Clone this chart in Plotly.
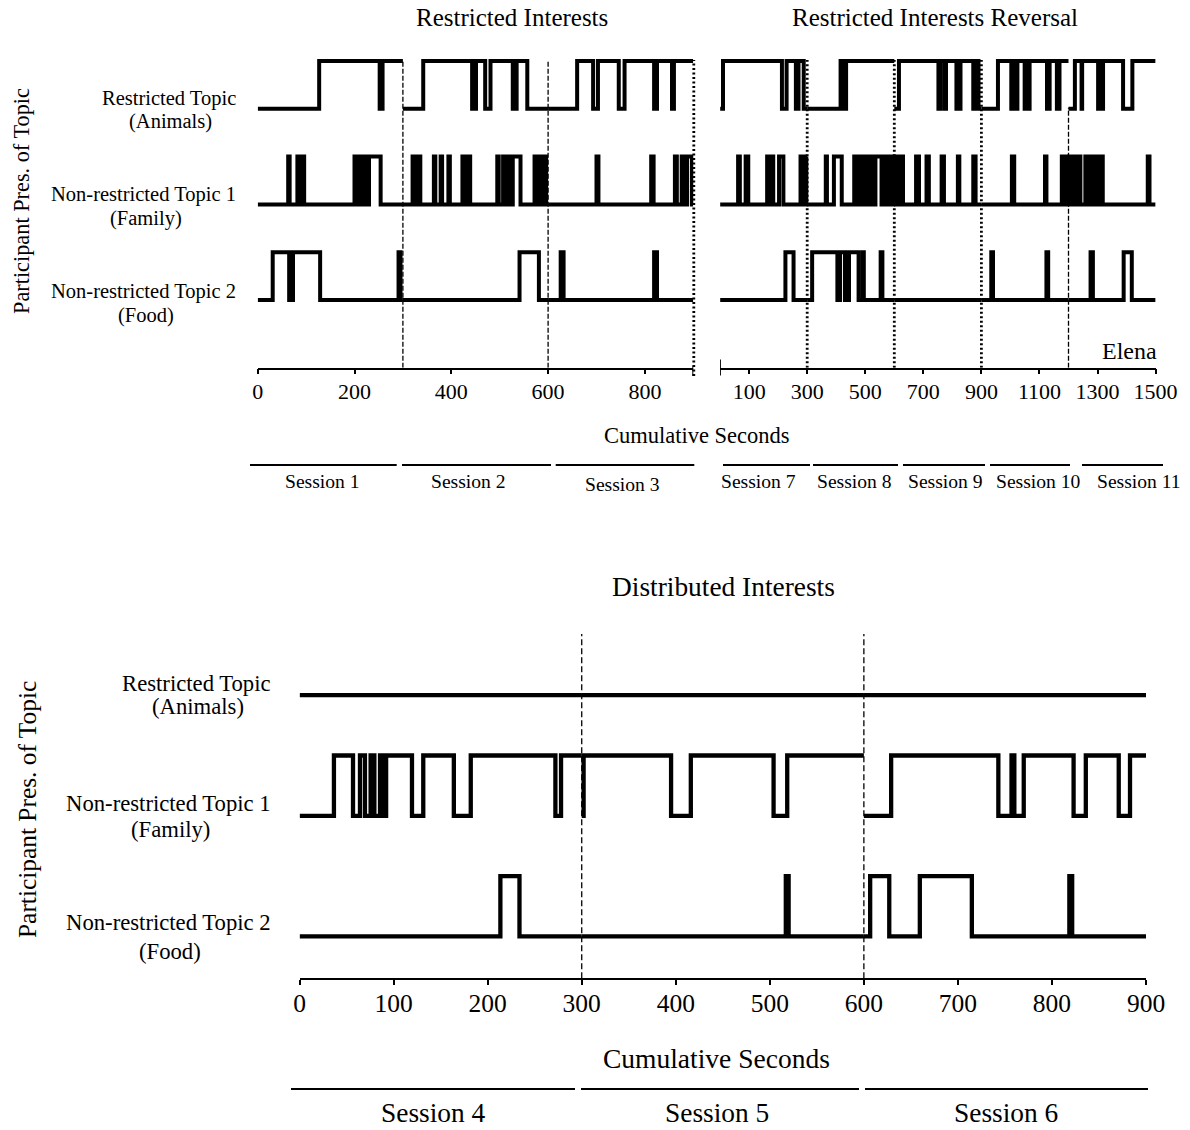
import plotly.graph_objects as go

W, H = 1190, 1130
FONT = "Liberation Serif"

# ---------------- data ----------------
topic_names = ["Restricted Topic", "Non-restricted Topic 1", "Non-restricted Topic 2"]
topic_subs = ["(Animals)", "(Family)", "(Food)"]
topic_levels = [4, 2, 0]          # baseline level of each topic row

ri_title = "Restricted Interests"
rir_title = "Restricted Interests Reversal"
di_title = "Distributed Interests"
x_title = "Cumulative Seconds"
y_title = "Participant Pres. of Topic"
participant = "Elena"

ri_sessions = [(0, 300), (300, 600), (600, 900)]
ri_session_names = ["Session 1", "Session 2", "Session 3"]
rir_sessions = [(0, 300), (300, 600), (600, 900), (900, 1200), (1200, 1500)]
rir_session_names = ["Session 7", "Session 8", "Session 9", "Session 10", "Session 11"]
di_sessions = [(0, 300), (300, 600), (600, 900)]
di_session_names = ["Session 4", "Session 5", "Session 6"]

ri_ticks = [0, 200, 400, 600, 800]
rir_ticks = [100, 300, 500, 700, 900, 1100, 1300, 1500]
di_ticks = [0, 100, 200, 300, 400, 500, 600, 700, 800, 900]

# intervals (start, end) in seconds during which the topic was presented
ri_animals = [(127, 252), (258, 300), (342, 443), (451, 470), (481, 527), (535, 557),
              (660, 693), (703, 746), (758, 819), (825, 856), (860, 900)]
ri_family = [(63, 66), (82, 85), (93, 96), (200, 204), (212, 215), (218, 221), (224, 227),
             (230, 254), (320, 323), (326, 329), (332, 336), (364, 367), (378, 381),
             (394, 397), (423, 427), (435, 439), (495, 498), (507, 510), (514, 517),
             (520, 523), (527, 543), (572, 575), (578, 581), (584, 587), (590, 593),
             (596, 600), (700, 704), (813, 818), (862, 866), (876, 882), (887, 897)]
ri_food = [(31, 65), (73, 129), (291, 295), (541, 581), (626, 632), (819, 825)]

rir_animals = [(10, 213), (229, 261), (270, 288), (415, 426), (434, 600), (616, 752),
               (758, 772), (778, 814), (818, 824), (828, 872), (880, 890), (957, 1003),
               (1008, 1018), (1024, 1049), (1054, 1061), (1066, 1126), (1135, 1160),
               (1169, 1200), (1222, 1245), (1247, 1302), (1307, 1314), (1319, 1388),
               (1420, 1500)]
rir_family = [(62, 68), (88, 97), (162, 165), (170, 173), (179, 183), (203, 218), (277, 287),
              (297, 300), (364, 368), (392, 419), (462, 465), (471, 474), (480, 483),
              (489, 492), (498, 501), (507, 510), (516, 519), (525, 528), (535, 556),
              (562, 565), (571, 574), (580, 583), (589, 592), (596, 600), (603, 606),
              (612, 615), (622, 630), (675, 685), (711, 719), (763, 771), (819, 824),
              (872, 880), (1005, 1013), (1119, 1124), (1177, 1180), (1186, 1189),
              (1195, 1200), (1203, 1206), (1212, 1215), (1221, 1224), (1230, 1233),
              (1238, 1241), (1258, 1261), (1266, 1269), (1274, 1277), (1282, 1285),
              (1290, 1293), (1298, 1301), (1306, 1309), (1314, 1318), (1473, 1479)]
rir_food = [(225, 253), (317, 404), (413, 430), (434, 441), (444, 477), (491, 495),
            (553, 559), (934, 940), (1124, 1130), (1276, 1284), (1390, 1418)]

di_animals = []
di_family = [(36.5, 56.8), (64.2, 69.5), (75.5, 79.5), (85.5, 88), (92, 119.5), (131.5, 164),
             (182, 272), (278, 300), (302, 395), (416, 504), (518.5, 600), (629, 743),
             (757, 760), (770, 823), (836, 871), (883, 900)]
di_food = [(213.5, 233.8), (517, 520), (606.7, 627), (659.5, 714.8), (818.5, 821.5)]


# ---------------- helpers ----------------
def px(x):
    return x / W


def py(y):
    return 1 - y / H


def steps(intervals, sessions, base):
    xs, ys = [], []
    for s0, s1 in sessions:
        iv = [(a, b) for a, b in intervals if a >= s0 and b <= s1]
        if iv and iv[0][0] == s0:
            xs.append(s0); ys.append(base + 1)
        else:
            xs.append(s0); ys.append(base)
        ended_high = False
        for a, b in iv:
            if a != s0:
                xs += [a, a]; ys += [base, base + 1]
            xs.append(b); ys.append(base + 1)
            if b == s1:
                ended_high = True
            else:
                xs.append(b); ys.append(base)
        if not ended_high:
            xs.append(s1); ys.append(base)
        xs.append(None); ys.append(None)
    return xs, ys


fig = go.Figure()

panels = [
    ("x", "y", ri_sessions, [ri_animals, ri_family, ri_food], 4),
    ("x2", "y2", rir_sessions, [rir_animals, rir_family, rir_food], 4),
    ("x3", "y3", di_sessions, [di_animals, di_family, di_food], 4.3),
]
for xa, ya, sess, series, lw in panels:
    for name, ivs, lvl in zip(topic_names, series, topic_levels):
        xs, ys = steps(ivs, sess, lvl)
        fig.add_trace(go.Scatter(x=xs, y=ys, mode="lines", xaxis=xa, yaxis=ya,
                                 line=dict(color="black", width=lw),
                                 name=name, showlegend=False, hoverinfo="skip"))

top_dom = [py(367.7), py(50)]
top_rng = [-(367.7 - 300) / 47.8, (300 - 50) / 47.8]
bot_dom = [py(978.2), py(625)]
bot_rng = [-(978.2 - 936.4) / 60.3, (936.4 - 625) / 60.3]

axis_common = dict(showgrid=False, zeroline=False, showline=True, linecolor="black",
                   linewidth=1.5, ticks="outside", ticklen=5, tickwidth=1.5,
                   tickcolor="black", fixedrange=True, automargin=False)
yaxis_common = dict(visible=False, fixedrange=True, automargin=False)

fig.update_layout(
    template="none",
    width=W, height=H, autosize=False,
    margin=dict(l=0, r=0, t=0, b=0, pad=0, autoexpand=False),
    paper_bgcolor="white", plot_bgcolor="white",
    font=dict(family=FONT, color="black"),
    xaxis=dict(domain=[px(257.7), px(693.3)], range=[0, 900], anchor="y",
               tickvals=ri_ticks, tickfont=dict(size=22, family=FONT),
               ticklabelstandoff=-2, **axis_common),
    xaxis2=dict(domain=[px(720.1), px(1155.6)], range=[0, 1500], anchor="y2",
                tickvals=rir_ticks, tickfont=dict(size=22, family=FONT),
                ticklabelstandoff=-2, **axis_common),
    xaxis3=dict(domain=[px(299.6), px(1146)], range=[0, 900], anchor="y3",
                tickvals=di_ticks, tickfont=dict(size=25.5, family=FONT),
                ticklabelstandoff=-4, **axis_common),
    yaxis=dict(domain=top_dom, range=top_rng, anchor="x", **yaxis_common),
    yaxis2=dict(domain=top_dom, range=top_rng, anchor="x2", **yaxis_common),
    yaxis3=dict(domain=bot_dom, range=bot_rng, anchor="x3", **yaxis_common),
)

shapes = []
dashed = dict(color="black", width=1.3, dash="5px,2px")
dotted = dict(color="black", width=2.8, dash="2px,2.5px")
# session boundary lines
for xv, st in [(300, dashed), (600, dashed)]:
    shapes.append(dict(type="line", xref="x", yref="y", x0=xv, x1=xv,
                       y0=top_rng[0], y1=5.02, line=st))
# closing dotted boundary at the right end of the first panel (not clipped)
shapes.append(dict(type="line", xref="paper", yref="paper", x0=px(693.8), x1=px(693.8),
                   y0=py(376), y1=py(60), line=dotted))
for xv, st, ytop in [(300, dotted, 5.02), (600, dotted, 5.02), (900, dotted, 5.02),
                     (1200, dashed, 4.02)]:
    shapes.append(dict(type="line", xref="x2", yref="y2", x0=xv, x1=xv,
                       y0=top_rng[0], y1=ytop, line=st))
for xv in [300, 600]:
    shapes.append(dict(type="line", xref="x3", yref="y3", x0=xv, x1=xv,
                       y0=bot_rng[0], y1=bot_rng[1] - 0.15,
                       line=dict(color="black", width=1.3, dash="6px,3px")))
# special end ticks
shapes.append(dict(type="line", xref="x", yref="paper", x0=900, x1=900,
                   y0=py(376), y1=py(366.5), line=dict(color="black", width=2)))
shapes.append(dict(type="line", xref="x2", yref="paper", x0=0, x1=0,
                   y0=py(375.5), y1=py(359.5), line=dict(color="black", width=1.8)))

# session underlines
top_lines = [(250, 396.7), (402, 551), (555.7, 694.3), (723, 810), (813, 898), (903, 985),
             (990, 1070), (1082, 1163)]
for x0, x1 in top_lines:
    shapes.append(dict(type="line", xref="paper", yref="paper", x0=px(x0), x1=px(x1),
                       y0=py(465), y1=py(465), line=dict(color="black", width=1.8)))
bot_lines = [(291, 575), (581, 859), (865, 1148)]
for x0, x1 in bot_lines:
    shapes.append(dict(type="line", xref="paper", yref="paper", x0=px(x0), x1=px(x1),
                       y0=py(1089), y1=py(1089), line=dict(color="black", width=1.8)))

ann = []


def text(t, x, y, size, xanchor="center", angle=0):
    ann.append(dict(text=t, x=px(x), y=py(y), xref="paper", yref="paper",
                    xanchor=xanchor, yanchor="middle", showarrow=False, textangle=angle,
                    font=dict(family=FONT, size=size, color="black")))


text(ri_title, 511.5, 18, 25)
text(rir_title, 934.7, 18, 25)
text(participant, 1129.5, 351, 24)
text(x_title, 696.5, 435, 22.5)
text(di_title, 724, 587, 27.4)
text(x_title, 716, 1058, 27.5)
text(y_title, 21, 201, 22.3, angle=-90)
text(y_title, 27, 810, 25.4, angle=-90)

top_sess_centers = [322, 468, 622.7, 758.3, 854.7, 945, 1038, 1139]
top_sess_y = [482, 482, 484, 482, 482, 482, 482, 482]
for name, cx, cy in zip(ri_session_names + rir_session_names, top_sess_centers, top_sess_y):
    text(name, cx, cy, 19.6)
for name, cx in zip(di_session_names, [433, 717, 1006]):
    text(name, cx, 1112.7, 27.4)

# row labels
top_rows = [(98.3, 121.7, 170.5), (195, 218.3, 145.5), (291.7, 315, 145.5)]
for nm, sub, (y1, y2, cx) in zip(topic_names, topic_subs, top_rows):
    text(nm, 237.5, y1, 20.5, xanchor="right")
    text(sub, cx, y2, 20.5)
bot_rows = [(683, 706, 197.5), (803, 829, 170), (922, 951, 170)]
for nm, sub, (y1, y2, cx) in zip(topic_names, topic_subs, bot_rows):
    text(nm, 272.5, y1, 22.7, xanchor="right")
    text(sub, cx, y2, 22.7)

fig.update_layout(shapes=shapes, annotations=ann)
fig.write_html("out.html", config={"responsive": False})
